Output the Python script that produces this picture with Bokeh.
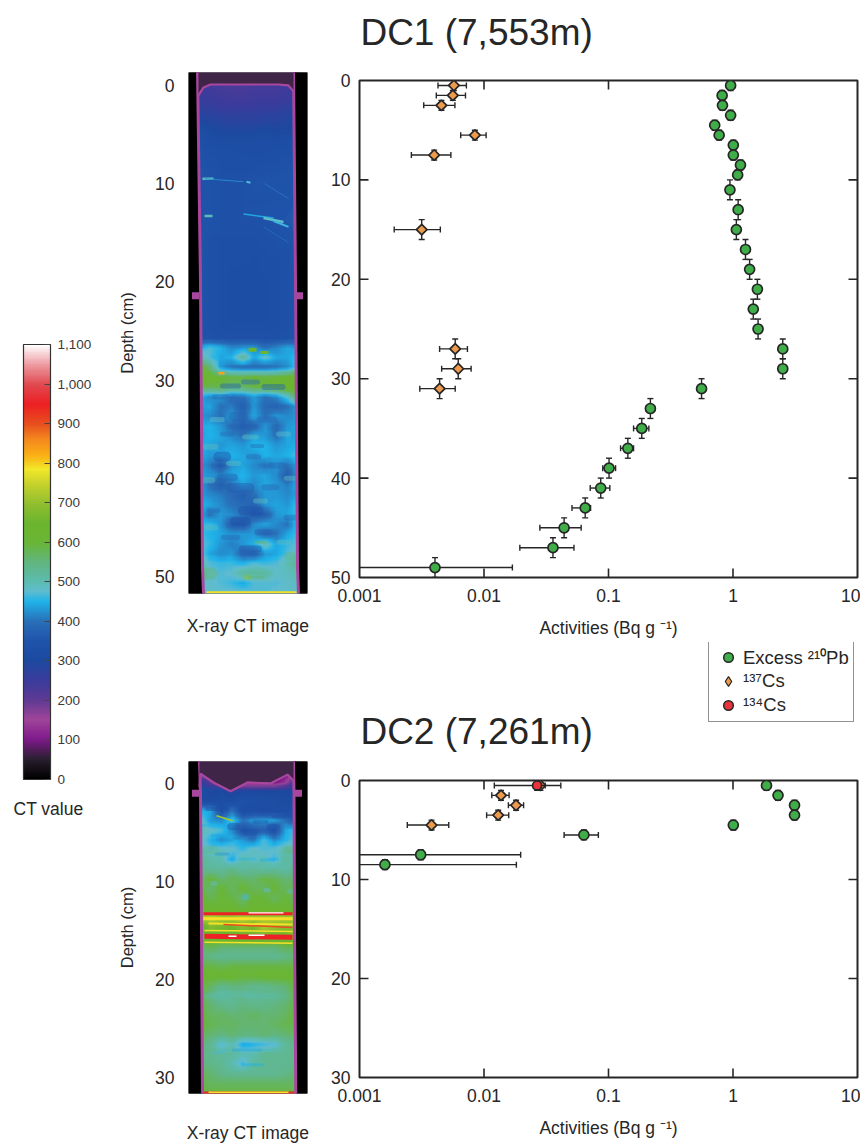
import numpy as np
from bokeh.embed import file_html
from bokeh.resources import INLINE
from bokeh.plotting import figure
from bokeh.layouts import row, column
from bokeh.models import (Range1d, FixedTicker, ColorBar, LinearColorMapper,
                          NumeralTickFormatter, Label, Legend, LegendItem, ColumnDataSource)

FONT = "Liberation Sans"
INK = "#262626"
NAN = float("nan")

# ---------- measured data, DC1 ----------
dc1_pb_depth = [0.5,1.5,2.5,3.5,4.5,5.5,6.5,7.5,8.5,9.5,11,13,15,17,19,21,23,25,27,29,31,33,35,37,39,41,43,45,47,49]
dc1_pb = [0.957,0.818,0.823,0.957,0.713,0.774,1.006,1.006,1.148,1.09,0.945,1.10,1.064,1.26,1.36,1.57,1.455,1.59,2.51,2.51,0.559,0.217,0.185,0.143,0.101,0.0866,0.065,0.044,0.0358,0.00404]
dc1_pb_lo = [0.92,0.79,0.79,0.92,0.69,0.75,0.97,0.97,1.11,1.05,0.91,1.06,1.03,1.22,1.31,1.52,1.41,1.54,2.43,2.43,0.53,0.20,0.159,0.125,0.0899,0.0713,0.0509,0.0281,0.0194,0.0005]
dc1_pb_hi = [0.99,0.85,0.85,0.99,0.74,0.80,1.04,1.04,1.19,1.13,0.98,1.14,1.10,1.30,1.41,1.62,1.50,1.64,2.59,2.59,0.59,0.235,0.211,0.159,0.114,0.1025,0.0718,0.0603,0.0528,0.0169]
dc1_pb_dz = [0.5]*10 + [1]*20

dc1_cs_depth = [0.5,1.5,2.5,5.5,7.5,15,27,29,31]
dc1_cs = [0.00573,0.00562,0.00455,0.00845,0.00398,0.00316,0.00587,0.00621,0.0044]
dc1_cs_lo = [0.00427,0.00414,0.00328,0.0065,0.00261,0.0019,0.0044,0.00457,0.00305]
dc1_cs_hi = [0.00722,0.0071,0.00584,0.0104,0.00542,0.00446,0.00736,0.00788,0.00587]
dc1_cs_dz = [0.5,0.5,0.5,0.5,0.5,1,1,1,1]

# ---------- measured data, DC2 ----------
dc2_pb_depth = [0.5,1.5,2.5,3.5,4.5,5.5,7.5,8.5]
dc2_pb = [1.858,2.30,3.12,3.12,1.006,0.0634,0.0031,0.0016]
dc2_pb_lo = [1.79,2.22,3.0,3.0,0.97,0.044,0.0005,0.0005]
dc2_pb_hi = [1.93,2.39,3.24,3.24,1.04,0.0829,0.0197,0.0182]
dc2_pb_dz = [0.5]*8

dc2_cs_depth = [0.5,1.5,2.5,3.5,4.5]
dc2_cs = [0.0284,0.0137,0.0181,0.013,0.00379]
dc2_cs_lo = [0.0255,0.01155,0.0157,0.0105,0.00242]
dc2_cs_hi = [0.031,0.0159,0.0208,0.0158,0.00521]
dc2_cs_dz = [0.5]*5

dc2_cs4_depth = [0.5]
dc2_cs4 = [0.0267]
dc2_cs4_lo = [0.0121]
dc2_cs4_hi = [0.0414]
dc2_cs4_dz = [0.5]

x_ticks = [0.001, 0.01, 0.1, 1, 10]
x_tick_labels = {0.001: "0.001", 0.01: "0.01", 0.1: "0.1", 1: "1", 10: "10"}
x_inner_ticks = [0.01, 0.1, 1]
dc1_depth_ticks = [0, 10, 20, 30, 40, 50]
dc1_inner_ticks = [10, 20, 30, 40]
dc2_depth_ticks = [0, 10, 20, 30]
dc2_inner_ticks = [10, 20]
ct_ticks = [0,100,200,300,400,500,600,700,800,900,1000,1100]

# ---------- colour scale of the CT value ----------
ct_stop_values = [0,50,100,150,200,250,300,350,400,450,475,500,550,600,650,700,750,785,820,860,900,950,1000,1050,1100]
ct_stop_colors = ["#000000","#2a2030","#7f1a8c","#a0459a","#5e3a94","#3b3c9c","#1c4aa0","#2054ac","#2a70b8","#1fb4ea","#60bcd0","#5cbcb0","#62b680","#6ab536","#6cb52e","#94c030","#c9d32c","#f2e82a","#fbb116","#f58a1e","#e8501f","#ed2024","#e04a50","#ee9aa0","#ffffff"]

# ---------- CT values (one row per cm, 10 columns) ----------
dc1_ct = [
 [70,70,70,70,70,70,70,70,70,70],
 [240,240,235,230,230,235,235,235,240,260],
 [250,245,240,235,235,240,240,240,250,280],
 [260,255,250,245,245,250,250,250,260,300],
 [280,275,265,265,265,265,270,270,280,320],
 [300,290,285,280,280,280,285,285,290,330],
 [330,310,300,300,295,300,310,300,300,330],
 [335,325,320,320,320,320,320,320,325,345],
 [340,330,330,330,325,325,325,330,330,345],
 [340,335,330,330,330,330,330,330,335,345],
 [345,335,330,330,330,330,335,335,340,350],
 [345,340,335,335,335,340,345,345,345,350],
 [345,340,335,335,335,340,340,340,345,355],
 [345,340,335,335,335,335,335,340,345,355],
 [345,340,335,335,335,340,345,345,350,365],
 [345,340,335,335,335,335,340,345,355,375],
 [345,340,335,335,335,335,335,340,345,365],
 [345,335,330,330,330,330,335,335,340,350],
 [345,335,330,330,330,330,330,335,335,345],
 [345,335,330,330,330,325,330,330,335,345],
 [345,335,330,325,325,325,330,330,335,345],
 [345,335,330,325,325,325,325,330,335,345],
 [345,335,330,325,325,325,325,330,335,345],
 [345,335,330,325,325,325,325,330,335,345],
 [345,335,330,325,325,325,325,330,335,345],
 [345,335,330,325,325,325,325,330,335,350],
 [345,335,330,330,330,330,330,330,335,350],
 [345,340,335,335,335,335,335,335,340,350],
 [440,470,450,420,430,430,400,420,440,430],
 [520,470,440,450,520,440,480,440,440,470],
 [620,560,430,400,390,390,390,400,420,480],
 [640,620,600,590,590,600,590,600,620,640],
 [590,580,590,570,570,590,600,620,640,660],
 [450,420,430,390,400,430,400,420,480,600],
 [430,440,400,410,370,430,390,380,400,440],
 [430,420,400,430,390,440,400,430,420,430],
 [440,450,430,390,370,380,430,390,430,440],
 [430,450,440,420,400,440,430,400,440,430],
 [450,440,430,440,430,450,450,430,440,450],
 [450,430,440,450,440,430,450,440,450,470],
 [440,410,360,430,440,420,400,430,400,440],
 [440,430,420,440,450,430,440,420,370,440],
 [450,400,370,400,440,420,440,430,410,450],
 [440,420,410,390,370,400,430,430,420,440],
 [460,440,420,400,390,380,430,440,430,470],
 [460,400,430,420,400,360,370,430,440,470],
 [450,460,430,370,360,420,440,420,400,470],
 [470,450,440,430,430,430,380,400,440,470],
 [480,460,430,410,430,450,500,440,460,480],
 [500,440,420,430,380,370,430,440,470,490],
 [520,470,460,460,450,470,460,470,500,540],
 [560,480,470,480,520,520,520,480,490,500],
 [470,480,470,460,440,470,470,470,480,490],
 [480,480,480,480,480,470,470,480,480,480],
]
dc2_ct = [
 [75,75,75,75,75,75,75,75,75,75],
 [120,75,75,75,75,75,75,75,75,120],
 [280,200,130,75,75,75,75,75,130,250],
 [320,290,310,280,300,300,300,300,300,300],
 [310,310,320,320,340,330,330,320,310,310],
 [450,440,330,400,320,320,310,320,320,330],
 [490,430,420,470,400,430,440,430,400,350],
 [500,480,470,420,340,360,370,330,440,470],
 [490,450,420,450,430,400,470,420,450,480],
 [500,470,490,480,460,490,470,480,500,500],
 [530,510,500,440,510,480,500,460,520,500],
 [540,520,520,540,510,530,510,520,510,530],
 [560,600,560,580,570,560,590,580,560,560],
 [590,560,600,570,600,580,570,600,570,590],
 [610,580,600,590,560,600,600,570,600,570],
 [610,610,600,610,590,610,610,610,600,600],
 [720,740,720,720,740,720,720,720,720,720],
 [600,680,660,650,680,660,720,700,680,680],
 [640,620,640,640,650,650,660,640,640,700],
 [560,580,560,560,560,560,560,560,580,580],
 [560,540,530,530,530,530,530,530,540,560],
 [590,590,580,590,590,590,590,590,590,590],
 [610,610,610,610,600,600,610,610,610,610],
 [600,570,540,550,550,540,540,550,560,600],
 [590,540,510,530,530,520,530,530,540,590],
 [590,560,540,530,550,540,540,550,560,590],
 [600,570,570,560,560,570,560,560,570,600],
 [600,580,570,570,560,560,560,570,580,590],
 [580,560,550,560,550,550,560,550,560,570],
 [560,530,470,500,440,450,460,470,520,540],
 [550,530,520,520,500,500,530,530,530,540],
 [550,540,530,500,460,520,530,530,530,540],
 [580,560,540,530,530,530,530,530,540,560],
 [590,570,570,570,570,570,570,570,570,570],
 [590,590,590,590,590,590,590,590,590,590],
]

# patches: centre x, depth, CT value, half length, thickness
dc1_b_x = [33.7,38.7,52,62,52,75,62,88.7,65,50,78.7,42,62,85,32,48.7,42,102,82,25,68.7,38.7,
           18.7,22,95,62,45,22,95,72,28.7,102, 20,72,102,58.7,68]
dc1_b_d = [37.8,39.9,41.0,43.3,44.4,45.5,47.2,38.7,37.8,33.7,34,30.6,30.2,30.7,31.7,32.2,46,44,40.9,43.3,36.7,35.5,
           40.2,36.8,35.5,35.8,38.5,45,46.5,42.3,34,40, 49.7,46.5,47.9,50.1,50.1]
dc1_b_ct = [350,370,370,350,350,380,370,380,390,380,390,380,390,380,390,390,390,395,390,390,395,395,
            490,490,480,490,490,490,490,490,480,490, 560,570,540,700,560]
dc1_b_len = [4,7,9,8,6,6,8,6,5,5,7,8,7,9,6,6,7,4,6,5,5,5,
             5,5,5,6,5,5,5,5,5,4, 3,5,2,2,7]
dc1_b_w = [10,7,10,9,9,6,7,6,5,9,6,5,5,6,5,5,5,6,6,4,4,5,
           6,6,5,5,5,6,5,5,5,5, 12,3,8,5,3]

dc2_b_x = [45.3,62,85,72,33.7,38.7,28.7,22,52,78.7,85,58.7,28.7,95,102,22,58.7,78.7,35,63.7,28.7,45,72,28.7,78.7,57,25.3,102,22]
dc2_b_d = [4.4,5,4.4,3.9,7.2,5.8,5.3,4.3,5.6,7.8,7.7,7.7,2.6,3.4,6.8,6.8,27.2,27.2,27.3,28.7,27.5,21.5,21.7,21.7,10.9,11.6,10.2,11,0.6]
dc2_b_ct = [330,350,340,360,430,430,440,450,420,450,450,460,320,340,560,540,440,470,470,450,470,510,510,520,480,470,480,490,320]
dc2_b_len = [3,4,4,6,6,5,5,8,6,6,4,8,10,10,3,4,14,6,4,10,4,14,14,10,1,1,1,1,10]
dc2_b_w = [7,6,5,4,3,3,3,3,3,3,3,3,4,3,8,8,3,2,2,3,2,7,6,6,5,6,5,5,5]

# tube walls (image x, depth)
dc1_wall_depth = [-1.4, 20, 49, 51.8]
dc1_wall_left = [9, 12, 14, 15]
dc1_wall_right = [105, 107, 109, 110]
dc2_wall_depth = [-2.3, 1, 15, 31.7]
dc2_wall_left = [11, 12, 13, 14]
dc2_wall_right = [105, 105.5, 106, 107.3]

# sediment (or core top) surface
dc1_top_x = [10, 15, 22, 90, 100, 105]
dc1_top_depth = [1.0, 0.2, -0.1, -0.1, 0.0, 0.6]
dc2_top_x = [11, 12, 25, 42, 59, 82, 99, 105]
dc2_top_depth = [0.4, -1.0, -0.1, 0.8, -0.1, 0.0, -0.9, -0.3]

# clamps on the tube
dc1_clamp_x = [7, 111]
dc1_clamp_depth = [21.4, 21.4]
dc2_clamp_x = [7, 110]
dc2_clamp_depth = [1.0, 1.0]

# thin layers in the images: x0, depth0, x1, depth1, CT value, thickness
dc1_f_x0 = [14, 16, 58, 76, 16, 55, 75, 85, 75, 60, 80, 30, 18]
dc1_f_d0 = [9.5, 9.5, 9.8, 10.0, 13.3, 13.1, 13.5, 13.8, 14.4, 26.9, 27.2, 29.3, 51.6]
dc1_f_x1 = [25, 55, 62, 100, 24, 85, 95, 100, 100, 68, 72, 36, 108]
dc1_f_d1 = [9.5, 9.8, 9.9, 11.5, 13.3, 13.5, 13.9, 14.4, 16.0, 26.9, 27.2, 29.3, 51.6]
dc1_f_ct = [480, 420, 470, 400, 490, 440, 480, 460, 390, 650, 650, 830, 790]
dc1_f_w = [2.5, 1, 2, 1, 2.5, 1.5, 2.5, 2, 1, 4, 3, 2.5, 2]

dc2_f_x0 = [15, 60, 15, 20, 35, 16, 16, 40, 60, 16, 15, 20, 28]
dc2_f_d0 = [13.3, 13.2, 13.8, 14.3, 14.4, 15.0, 15.6, 15.6, 15.5, 16.2, 31.6, 31.5, 3.3]
dc2_f_x1 = [104, 95, 104, 104, 104, 104, 104, 48, 76, 104, 106, 100, 44]
dc2_f_d1 = [13.3, 13.2, 13.8, 14.4, 14.7, 15.1, 15.7, 15.6, 15.5, 16.3, 31.6, 31.5, 3.8]
dc2_f_ct = [950, 1100, 790, 790, 900, 790, 950, 1100, 1100, 790, 940, 790, 720]
dc2_f_w = [3, 1.2, 3, 2, 1.5, 1.5, 5, 1.5, 1.5, 1.5, 3, 1.5, 1.5]

# ---------- helpers ----------
def make_palette(stops, colors, n=256):
    rgb = np.array([[int(c[i:i+2], 16) for i in (1, 3, 5)] for c in colors], float)
    grid = np.linspace(stops[0], stops[-1], n)
    chans = [np.interp(grid, stops, rgb[:, k]) for k in range(3)]
    return ["#%02x%02x%02x" % (int(r), int(g), int(b)) for r, g, b in zip(*chans)]

def resample(grid, factor=8):
    """Display resampling of the hand-read CT grid, so that it is not drawn as big blocks."""
    a = np.array(grid, float)
    ys = np.linspace(0, a.shape[0] - 1, (a.shape[0] - 1) * factor + 1)
    xs = np.linspace(0, a.shape[1] - 1, (a.shape[1] - 1) * factor + 1)
    by_col = np.array([np.interp(ys, np.arange(a.shape[0]), a[:, j]) for j in range(a.shape[1])]).T
    return np.array([np.interp(xs, np.arange(a.shape[1]), r) for r in by_col])

mapper = LinearColorMapper(palette=make_palette(ct_stop_values, ct_stop_colors), low=0, high=1100)

def style_tick_labels(ax, size="17.5px"):
    ax.major_label_text_font = FONT
    ax.major_label_text_font_size = size
    ax.major_label_text_color = INK

def core_figure(height, top, bottom, label_gap, dmin, dmax, ticks, grid, gx0, gx1, walls, blots, feats, clamps, surface):
    p = figure(width=215, height=height, output_backend="svg", toolbar_location=None,
               x_range=Range1d(0, 119), y_range=Range1d(dmax, dmin), min_border_left=83,
               min_border_right=13, min_border_top=top, min_border_bottom=bottom,
               outline_line_color=None, background_fill_color="#000000", border_fill_color=None)
    p.grid.visible = False
    p.image(image=[resample(grid)], x=gx0, y=dmin, dw=gx1 - gx0, dh=dmax - dmin, color_mapper=mapper)
    bx, bd, bc, bl, bw = blots
    p.segment(x0=[x - l for x, l in zip(bx, bl)], y0=bd, x1=[x + l for x, l in zip(bx, bl)], y1=bd,
              line_width=bw, line_cap="round", line_alpha=0.45, line_color=[mapper.palette[min(255, int(c / 1100 * 255))] for c in bc])
    p.segment(x0="x0", y0="d0", x1="x1", y1="d1", line_width="w", line_color={"field": "ct", "transform": mapper},
              source=ColumnDataSource(dict(zip(["x0", "d0", "x1", "d1", "ct", "w"], feats))))
    wd, wl, wr = walls
    p.harea(y=wd, x1=[0]*len(wd), x2=wl, fill_color="#000000")
    p.harea(y=wd, x1=wr, x2=[119]*len(wd), fill_color="#000000")
    p.line(wl, wd, line_color="#a9479f", line_width=3)
    p.line(wr, wd, line_color="#a9479f", line_width=3)
    p.scatter(clamps[0], clamps[1], marker="square", size=7, fill_color="#a9479f", line_color=None)
    sx, sd = surface
    p.varea(x=sx, y1=[dmin]*len(sx), y2=sd, fill_color="#3f2547")
    p.line(sx, sd, line_color="#a9479f", line_width=2.2)
    ya = p.yaxis[0]
    ya.ticker = FixedTicker(ticks=ticks)
    ya.axis_line_color = None
    ya.major_tick_line_color = None
    ya.minor_tick_line_color = None
    ya.major_label_standoff = 8
    style_tick_labels(ya)
    ya.axis_label = "Depth (cm)"
    ya.axis_label_text_font = FONT
    ya.axis_label_text_font_style = "normal"
    ya.axis_label_text_font_size = "16.5px"
    ya.axis_label_text_color = INK
    ya.axis_label_standoff = 16
    xa = p.xaxis[0]
    xa.ticker = FixedTicker(ticks=[])
    xa.axis_line_color = None
    xa.major_tick_line_color = None
    xa.minor_tick_line_color = None
    xa.axis_label = "X-ray CT image"
    xa.axis_label_text_font = FONT
    xa.axis_label_text_font_style = "normal"
    xa.axis_label_text_font_size = "17.5px"
    xa.axis_label_text_color = INK
    xa.axis_label_standoff = label_gap
    return p

def err_series(p, depth, val, lo, hi, dz, marker, size, fill, angle=0.0):
    src = ColumnDataSource(dict(y=depth, x=val, lo=lo, hi=hi,
                                top=[d - e for d, e in zip(depth, dz)], bot=[d + e for d, e in zip(depth, dz)]))
    p.segment(x0="lo", y0="y", x1="hi", y1="y", source=src, line_color=INK, line_width=1.4)
    p.segment(x0="x", y0="top", x1="x", y1="bot", source=src, line_color=INK, line_width=1.4)
    for c in ("lo", "hi"):
        p.scatter(x=c, y="y", source=src, marker="dash", size=6, angle=np.pi / 2, line_color=INK, line_width=1.4)
    for c in ("top", "bot"):
        p.scatter(x="x", y=c, source=src, marker="dash", size=6, line_color=INK, line_width=1.4)
    return p.scatter(x="x", y="y", source=src, marker=marker, size=size, angle=angle, fill_color=fill,
                     line_color=INK, line_width=1.7)

def chart_figure(height, top, bottom, dmax, ticks, inner):
    p = figure(width=540, height=height, output_backend="svg", toolbar_location=None,
               x_axis_type="log", x_range=Range1d(0.001, 10), y_range=Range1d(dmax, 0),
               min_border_left=39, min_border_right=3, min_border_top=top, min_border_bottom=bottom,
               outline_line_color=INK, outline_line_width=2, border_fill_color=None)
    p.grid.visible = False
    xa, ya = p.xaxis[0], p.yaxis[0]
    for ax, tk in ((xa, x_ticks), (ya, ticks)):
        ax.ticker = FixedTicker(ticks=tk)
        ax.axis_line_color = None
        ax.major_tick_in = 0
        ax.major_tick_out = 0
        ax.minor_tick_in = 0
        ax.minor_tick_out = 0
        ax.major_tick_line_color = None
        ax.minor_tick_line_color = None
        style_tick_labels(ax)
    xa.major_label_overrides = x_tick_labels
    xa.major_label_standoff = 11
    ya.major_label_standoff = 9
    xa.axis_label = "Activities (Bq g \u207b\u00b9)"
    xa.axis_label_text_font = FONT
    xa.axis_label_text_font_style = "normal"
    xa.axis_label_text_font_size = "17.5px"
    xa.axis_label_text_color = INK
    xa.axis_label_standoff = 13
    # inward ticks on all four sides, 9 px long
    frame_h = height - top - bottom
    tick_y = dmax * 9 / frame_h
    tick_x = 10 ** (9 / 124.5)
    n, m = len(x_inner_ticks), len(inner)
    p.segment(x0=x_inner_ticks, y0=[0]*n, x1=x_inner_ticks, y1=[tick_y]*n, line_color=INK, line_width=1.6)
    p.segment(x0=x_inner_ticks, y0=[dmax]*n, x1=x_inner_ticks, y1=[dmax - tick_y]*n, line_color=INK, line_width=1.6)
    p.segment(x0=[0.001]*m, y0=inner, x1=[0.001 * tick_x]*m, y1=inner, line_color=INK, line_width=1.6)
    p.segment(x0=[10]*m, y0=inner, x1=[10 / tick_x]*m, y1=inner, line_color=INK, line_width=1.6)
    return p

def plain_figure(width, height):
    p = figure(width=width, height=height, output_backend="svg", toolbar_location=None, x_axis_location=None,
               y_axis_location=None, min_border=0, outline_line_color=None,
               x_range=Range1d(0, width), y_range=Range1d(height, 0), border_fill_color=None)
    p.grid.visible = False
    return p

def title_label(text, x, y):
    return Label(x=x, y=y, text=text, text_font=FONT, text_font_size="37px", text_color=INK,
                 text_baseline="middle", text_align="left")

# ---------- colour bar ----------
pa = plain_figure(105, 838)
cb = ColorBar(color_mapper=mapper, ticker=FixedTicker(ticks=ct_ticks), formatter=NumeralTickFormatter(format="0,0"),
              location=(23, 59), width=27, height=435, padding=0, margin=0, major_label_text_font=FONT,
              major_label_text_font_size="13.5px", major_label_text_color="#3a3a3a", major_tick_line_color="#444444",
              major_tick_in=6, major_tick_out=0, minor_tick_line_color=None, bar_line_color="#333333",
              bar_line_width=1.2, label_standoff=7, background_fill_color=None, border_line_color=None)
pa.add_layout(cb, "center")
pa.add_layout(Label(x=48, y=808, text="CT value", text_font=FONT, text_font_size="17.5px", text_color=INK,
                    text_align="center", text_baseline="middle"))

# ---------- CT images ----------
b1 = core_figure(640, 72, 47, 22, -1.32, 51.73, dc1_depth_ticks, dc1_ct, 9, 111, (dc1_wall_depth, dc1_wall_left, dc1_wall_right),
                 (dc1_b_x, dc1_b_d, dc1_b_ct, dc1_b_len, dc1_b_w),
                 [dc1_f_x0, dc1_f_d0, dc1_f_x1, dc1_f_d1, dc1_f_ct, dc1_f_w], (dc1_clamp_x, dc1_clamp_depth), (dc1_top_x, dc1_top_depth))
b2 = core_figure(505, 121, 51, 29, -2.24, 31.64, dc2_depth_ticks, dc2_ct, 11, 108, (dc2_wall_depth, dc2_wall_left, dc2_wall_right),
                 (dc2_b_x, dc2_b_d, dc2_b_ct, dc2_b_len, dc2_b_w),
                 [dc2_f_x0, dc2_f_d0, dc2_f_x1, dc2_f_d1, dc2_f_ct, dc2_f_w], (dc2_clamp_x, dc2_clamp_depth), (dc2_top_x, dc2_top_depth))

# ---------- activity profiles ----------
t1 = plain_figure(540, 60)
t1.add_layout(title_label("DC1 (7,553m)", 1, 32))

c1 = chart_figure(582, 20, 65, 50, dc1_depth_ticks, dc1_inner_ticks)
err_series(c1, dc1_cs_depth, dc1_cs, dc1_cs_lo, dc1_cs_hi, dc1_cs_dz, "square", 7.5, "#ee9a4d", np.pi / 4)
err_series(c1, dc1_pb_depth, dc1_pb, dc1_pb_lo, dc1_pb_hi, dc1_pb_dz, "circle", 10, "#3fae49")

mid = plain_figure(540, 123)
mid.add_layout(title_label("DC2 (7,261m)", 1, 89))
r_pb = mid.scatter([NAN], [NAN], marker="circle", size=10, fill_color="#3fae49", line_color=INK, line_width=1.5)
r_cs = mid.scatter([NAN], [NAN], marker="diamond", size=10, fill_color="#ee9a4d", line_color=INK, line_width=1.2)
r_c4 = mid.scatter([NAN], [NAN], marker="circle", size=9, fill_color="#e8333a", line_color=INK, line_width=1.5)
legend = Legend(items=[LegendItem(label="Excess \u00b2\u00b9\u2070Pb", renderers=[r_pb]),
                       LegendItem(label="\u00b9\u00b3\u2077Cs", renderers=[r_cs]),
                       LegendItem(label="\u00b9\u00b3\u2074Cs", renderers=[r_c4])],
                location=(349, 43), label_text_font=FONT, label_text_font_size="18.5px", label_text_color=INK,
                border_line_color=INK, border_line_width=1.3, background_fill_color="#ffffff", background_fill_alpha=1,
                glyph_width=30, glyph_height=24, label_standoff=0, spacing=0, padding=4, margin=0, label_height=16)
mid.add_layout(legend, "center")

c2 = chart_figure(380, 15, 68, 30, dc2_depth_ticks, dc2_inner_ticks)
err_series(c2, dc2_cs_depth, dc2_cs, dc2_cs_lo, dc2_cs_hi, dc2_cs_dz, "square", 7.5, "#ee9a4d", np.pi / 4)
err_series(c2, dc2_pb_depth, dc2_pb, dc2_pb_lo, dc2_pb_hi, dc2_pb_dz, "circle", 10, "#3fae49")
err_series(c2, dc2_cs4_depth, dc2_cs4, dc2_cs4_lo, dc2_cs4_hi, dc2_cs4_dz, "circle", 9, "#e8333a")

page = row(pa, column(b1, b2, spacing=0), column(t1, c1, mid, c2, spacing=0), spacing=0)
open("out.html", "w").write(file_html(page, INLINE))
